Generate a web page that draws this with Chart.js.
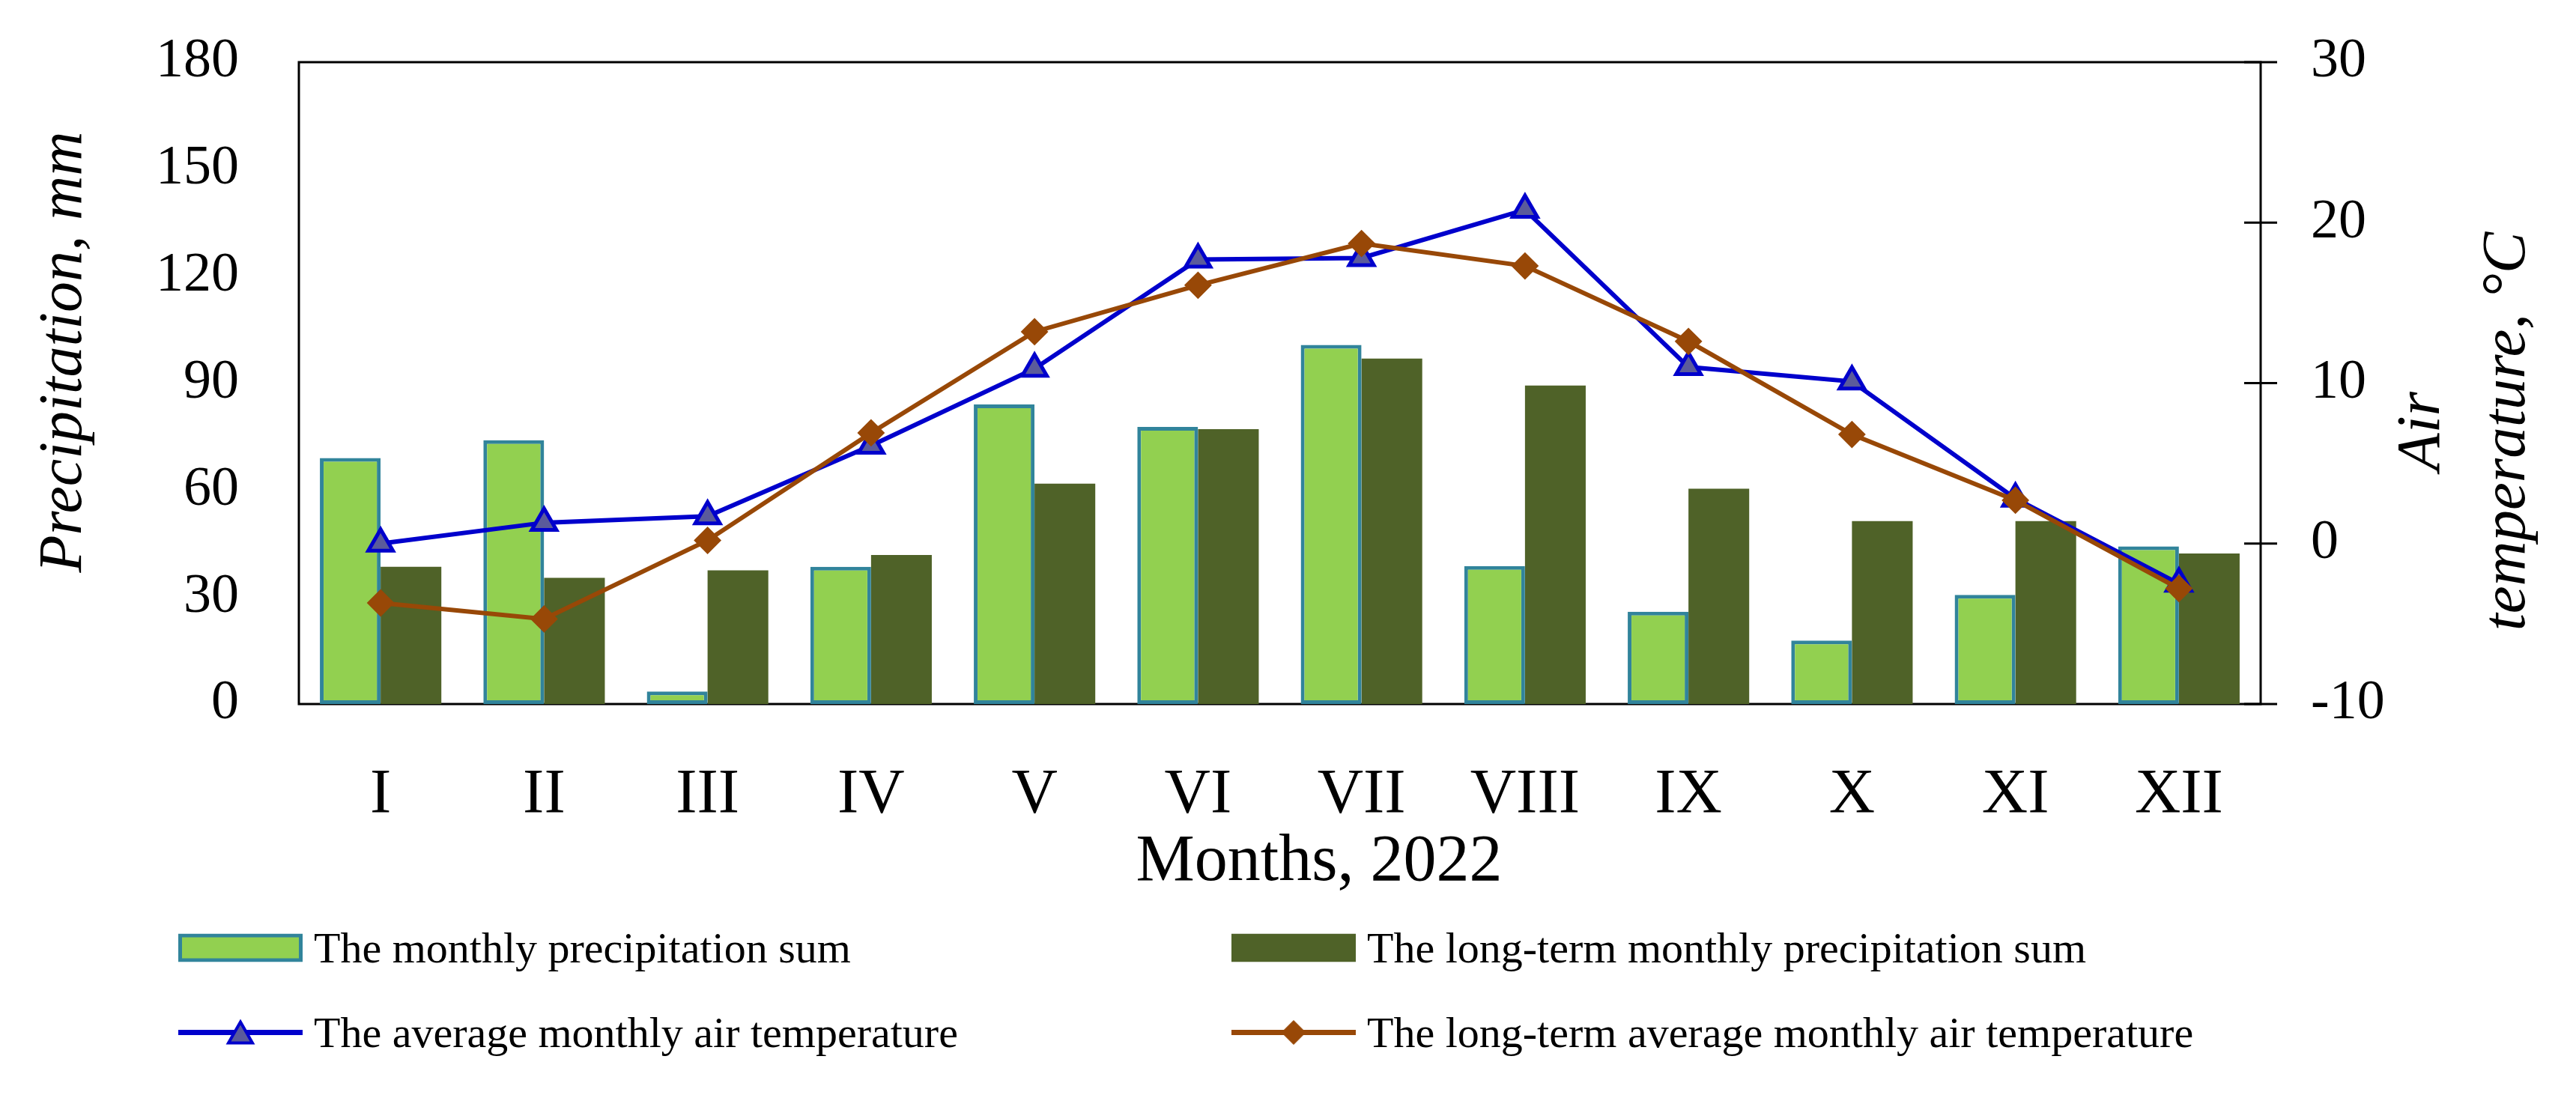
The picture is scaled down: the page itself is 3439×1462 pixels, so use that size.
<!DOCTYPE html>
<html><head><meta charset="utf-8">
<script src="https://cdn.jsdelivr.net/npm/chart.js@4.4.1/dist/chart.umd.min.js"></script>
<style>
html,body{margin:0;padding:0;background:#fff;}
#wrap{position:relative;width:3439px;height:1462px;overflow:hidden;}
#c{position:absolute;left:0;top:0;}
.lg{position:absolute;display:flex;align-items:center;transform:translateY(-50%);font-family:"Liberation Serif",serif;font-size:58px;color:#000;white-space:nowrap;}
.lg svg{margin-right:15px;flex:none;}
</style></head><body>
<div id="wrap"><canvas id="c" width="3439" height="1462"></canvas><div id="legend"></div></div>
<script>
// ---- data ----
const months = ["I","II","III","IV","V","VI","VII","VIII","IX","X","XI","XII"];
const precip2022 = [69, 74, 3.5, 38.5, 84, 77.7, 100.7, 38.7, 25.9, 17.8, 30.6, 44.2];
const precipLongTerm = [38.5, 35.4, 37.5, 41.8, 61.8, 77.1, 96.9, 89.3, 60.4, 51.3, 51.3, 42.2];
const temp2022 = [0.0, 1.3, 1.7, 6.1, 10.9, 17.7, 17.8, 20.8, 11.0, 10.1, 2.8, -2.5];
const tempLongTerm = [-3.7, -4.7, 0.2, 6.9, 13.2, 16.1, 18.7, 17.3, 12.6, 6.8, 2.7, -2.8];
const precipTicks = [0, 30, 60, 90, 120, 150, 180];
const tempTicks = [-10, 0, 10, 20, 30];
const seriesLabels = [
  "The monthly precipitation sum",
  "The long-term monthly precipitation sum",
  "The average monthly air temperature",
  "The long-term average monthly air temperature"
];
const xTitle = "Months, 2022";
const yTitle = "Precipitation, mm";
const y1Title = ["Air", "temperature, °C"];

// ---- styling ----
const FONT = "'Liberation Serif', serif";
Chart.defaults.font.family = FONT;
Chart.defaults.color = '#000';

const framePlugin = {
  id: 'frame',
  beforeDatasetsDraw(chart) {
    const {ctx, chartArea: a} = chart;
    ctx.save();
    ctx.strokeStyle = '#000';
    ctx.lineWidth = 3;
    ctx.strokeRect(a.left, a.top, a.right - a.left, a.bottom - a.top);
    const s = chart.scales.y1;
    s.ticks.forEach(t => {
      const y = s.getPixelForValue(t.value);
      ctx.beginPath();
      ctx.moveTo(a.right - 22, y);
      ctx.lineTo(a.right + 22, y);
      ctx.stroke();
    });
    ctx.restore();
  },
  afterDraw(chart) {
    const {ctx, chartArea: a} = chart;
    ctx.save();
    ctx.fillStyle = '#000';
    ctx.textAlign = 'center';
    ctx.textBaseline = 'middle';
    // x axis title
    ctx.font = "88px " + FONT;
    ctx.fillText(xTitle, 1761, 1152);
    // left axis title
    ctx.font = "italic 82px " + FONT;
    ctx.save();
    ctx.translate(86, 470);
    ctx.rotate(-Math.PI / 2);
    ctx.fillText(yTitle, 0, 0);
    ctx.restore();
    // right axis title (two lines, reading upwards)
    ctx.font = "italic 83px " + FONT;
    const cy = 576;
    const xs = [a.right + 216, a.right + 330];
    y1Title.forEach((line, i) => {
      ctx.save();
      ctx.translate(xs[i], cy);
      ctx.rotate(-Math.PI / 2);
      ctx.fillText(line, 0, 0);
      ctx.restore();
    });
    ctx.restore();
  }
};

const chart = new Chart(document.getElementById('c'), {
  type: 'bar',
  data: {
    labels: months,
    datasets: [
      {type: 'bar', label: seriesLabels[0], data: precip2022, yAxisID: 'y', order: 3,
       backgroundColor: '#92D050', borderColor: '#31849B', borderWidth: 5, borderSkipped: false,
       categoryPercentage: 0.743, barPercentage: 1.0},
      {type: 'bar', label: seriesLabels[1], data: precipLongTerm, yAxisID: 'y', order: 4,
       backgroundColor: '#4F6228', borderColor: '#4F6228', borderWidth: 0,
       categoryPercentage: 0.743, barPercentage: 1.0},
      {type: 'line', label: seriesLabels[2], data: temp2022, yAxisID: 'y1', order: 2,
       borderColor: '#0000CC', backgroundColor: '#5B5B9B', borderWidth: 6, tension: 0,
       pointStyle: 'triangle', pointRadius: 19, pointBorderWidth: 5,
       pointBackgroundColor: '#5B5B9B', pointBorderColor: '#0000CC'},
      {type: 'line', label: seriesLabels[3], data: tempLongTerm, yAxisID: 'y1', order: 1,
       borderColor: '#984807', backgroundColor: '#984807', borderWidth: 6, tension: 0,
       pointStyle: 'rectRot', pointRadius: 17, pointBorderWidth: 2,
       pointBackgroundColor: '#984807', pointBorderColor: '#984807'}
    ]
  },
  options: {
    responsive: false,
    animation: false,
    devicePixelRatio: 1,
    events: [],
    layout: {padding: {top: 83, left: 0, right: 0, bottom: 242}},
    plugins: {legend: {display: false}, tooltip: {enabled: false}},
    scales: {
      x: {
        grid: {display: false, drawTicks: true, tickLength: 69},
        border: {display: false},
        ticks: {font: {size: 85}, padding: 3, maxRotation: 0, autoSkip: false},
        afterFit(s) { s.height = 280; }
      },
      y: {
        position: 'left', min: 0, max: 180,
        afterBuildTicks(s) { s.ticks = precipTicks.map(v => ({value: v})); },
        grid: {display: false, drawTicks: true, tickLength: 77},
        border: {display: false},
        ticks: {font: {size: 74}, padding: 3},
        afterFit(s) { s.width = 399; }
      },
      y1: {
        position: 'right', min: -10, max: 30,
        afterBuildTicks(s) { s.ticks = tempTicks.map(v => ({value: v})); },
        grid: {display: false, drawTicks: true, tickLength: 64},
        border: {display: false},
        ticks: {font: {size: 74}, padding: 3},
        afterFit(s) { s.width = 421; }
      }
    }
  },
  plugins: [framePlugin]
});

// ---- HTML legend built from the chart's datasets ----
(function buildLegend() {
  const host = document.getElementById('legend');
  const cols = [238, 1644];
  const rows = [1265, 1378];
  chart.data.datasets.forEach((ds, i) => {
    const el = document.createElement('div');
    el.className = 'lg';
    el.style.left = cols[i % 2] + 'px';
    el.style.top = rows[Math.floor(i / 2)] + 'px';
    let svg;
    if (ds.type === 'bar') {
      const bw = ds.borderWidth || 0;
      svg = `<svg width="166" height="38"><rect x="${bw/2}" y="${bw/2}" width="${166-bw}" height="${38-bw}" fill="${ds.backgroundColor}" stroke="${bw ? ds.borderColor : 'none'}" stroke-width="${bw}"/></svg>`;
    } else {
      let marker;
      if (ds.pointStyle === 'triangle') {
        marker = `<polygon points="83,4 99,32 67,32" fill="${ds.pointBackgroundColor}" stroke="${ds.pointBorderColor}" stroke-width="4" stroke-linejoin="miter"/>`;
      } else {
        marker = `<polygon points="83,2 99,18 83,34 67,18" fill="${ds.pointBackgroundColor}" stroke="${ds.pointBorderColor}" stroke-width="1"/>`;
      }
      svg = `<svg width="166" height="36"><line x1="0" y1="18" x2="166" y2="18" stroke="${ds.borderColor}" stroke-width="7"/>${marker}</svg>`;
    }
    el.innerHTML = svg + '<span>' + ds.label + '</span>';
    host.appendChild(el);
  });
})();
</script>
</body></html>
